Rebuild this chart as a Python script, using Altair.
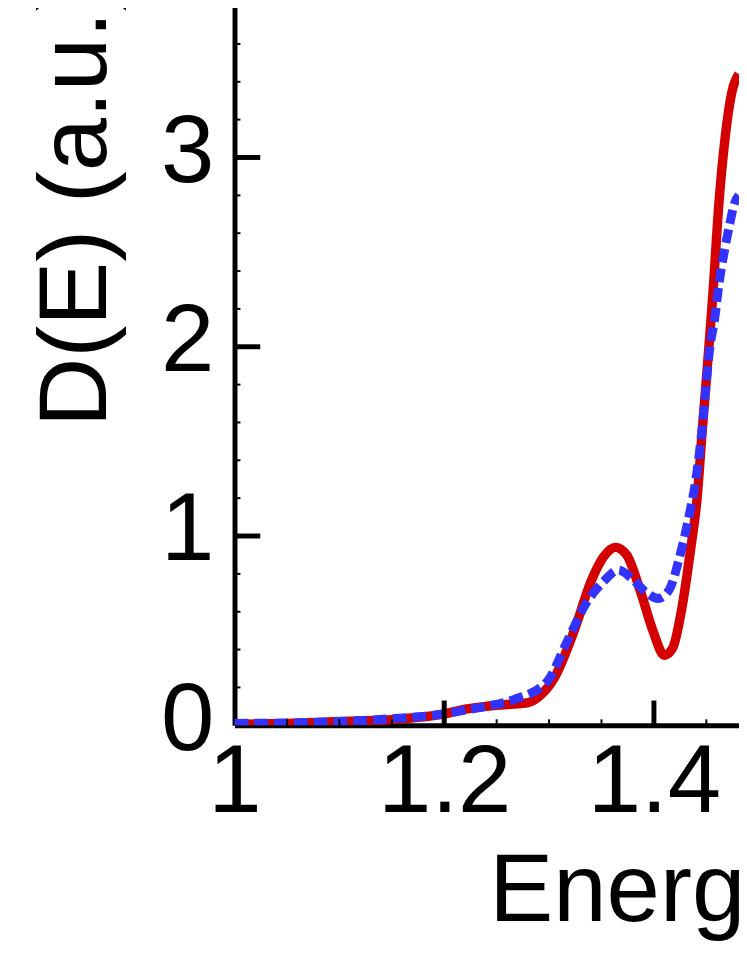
import altair as alt
import pandas as pd

# Red solid curve
red_x = [1.00, 1.05, 1.10, 1.15, 1.20, 1.22, 1.24, 1.26, 1.28, 1.29, 1.305, 1.324, 1.34, 1.352,
         1.363, 1.374, 1.387, 1.399, 1.410, 1.418, 1.427, 1.435, 1.441, 1.446, 1.451, 1.456,
         1.462, 1.468, 1.4745, 1.481]
red_y = [0.005, 0.01, 0.02, 0.03, 0.06, 0.085, 0.10, 0.11, 0.12, 0.15, 0.25, 0.50, 0.76, 0.89,
         0.94, 0.90, 0.71, 0.50, 0.37, 0.41, 0.63, 0.93, 1.19, 1.55, 1.90, 2.26,
         2.76, 3.11, 3.35, 3.44]

# Blue dashed curve
blue_x = [1.00, 1.05, 1.10, 1.15, 1.20, 1.22, 1.24, 1.267, 1.298, 1.317, 1.336, 1.352, 1.366,
          1.380, 1.393, 1.404, 1.415, 1.424, 1.434, 1.440, 1.445, 1.449, 1.453, 1.458, 1.462,
          1.467, 1.472, 1.477, 1.481]
blue_y = [0.01, 0.012, 0.02, 0.035, 0.06, 0.08, 0.10, 0.137, 0.23, 0.44, 0.65, 0.76, 0.82,
          0.77, 0.70, 0.67, 0.72, 0.88, 1.12, 1.30, 1.52, 1.75, 1.98, 2.15, 2.33,
          2.50, 2.64, 2.76, 2.80]

x_labels = [1, 1.2, 1.4]
y_labels = [0, 1, 2, 3]
x_major_ticks = [1.2, 1.4]
x_minor_ticks = [1.05, 1.1, 1.15, 1.25, 1.3, 1.35, 1.45]
y_major_ticks = [1, 2, 3]
y_minor_ticks = [0.2, 0.4, 0.6, 0.8, 1.2, 1.4, 1.6, 1.8, 2.2, 2.4, 2.6, 2.8, 3.2, 3.4, 3.6]

FONT = "Liberation Sans"
FS = 97
W, H = 510, 728
XMAX = 1 + W / 1060.0
YMAX = H / 191.33

red_df = pd.DataFrame({"x": red_x, "y": red_y})
blue_df = pd.DataFrame({"x": blue_x, "y": blue_y})

def xenc():
    return alt.X("x:Q",
                 scale=alt.Scale(domain=[1, XMAX], nice=False, zero=False),
                 axis=alt.Axis(values=x_labels, format="~g", ticks=False, tickSize=0, grid=False,
                               domainColor="black", domainWidth=5,
                               labelFont=FONT, labelFontSize=FS, labelColor="black",
                               labelPadding=87, labelBaseline="alphabetic",
                               labelFlush=False, labelOverlap=False,
                               title="Energy (eV)", titleFont=FONT, titleFontSize=FS,
                               titleFontWeight="normal", titleColor="black",
                               titleAlign="left", titleBaseline="alphabetic",
                               titleX=257, titleY=197))

def yenc():
    return alt.Y("y:Q",
                 scale=alt.Scale(domain=[0, YMAX], nice=False, zero=False),
                 axis=alt.Axis(values=y_labels, format="~g", ticks=False, tickSize=0, grid=False,
                               domainColor="black", domainWidth=5,
                               labelFont=FONT, labelFontSize=FS, labelColor="black",
                               labelPadding=21, labelFlush=False, labelOverlap=False,
                               labelOffset=-5,
                               title="D(E) (a.u.)", titleFont=FONT, titleFontSize=FS,
                               titleFontWeight="normal", titleColor="black",
                               titleAngle=270, titleAlign="left", titleBaseline="alphabetic",
                               titleX=-130, titleY=426))

red = alt.Chart(red_df).mark_line(color="#d40000", strokeWidth=9.5, clip=True,
                                  interpolate="monotone").encode(x=xenc(), y=yenc())
blue = alt.Chart(blue_df).mark_line(color="#3333ff", strokeWidth=9, strokeDash=[14, 6],
                                    clip=True, interpolate="monotone").encode(x=xenc(), y=yenc())

xmaj = alt.Chart(pd.DataFrame({"x": x_major_ticks})).mark_rule(color="black", strokeWidth=5).encode(
    x=xenc(), y=alt.value(H), y2=alt.value(H - 25))
xmin = alt.Chart(pd.DataFrame({"x": x_minor_ticks})).mark_rule(color="black", strokeWidth=2).encode(
    x=xenc(), y=alt.value(H), y2=alt.value(H - 6))
ymaj = alt.Chart(pd.DataFrame({"y": y_major_ticks})).mark_rule(color="black", strokeWidth=5).encode(
    y=yenc(), x=alt.value(0), x2=alt.value(26))
ymin = alt.Chart(pd.DataFrame({"y": y_minor_ticks})).mark_rule(color="black", strokeWidth=2).encode(
    y=yenc(), x=alt.value(0), x2=alt.value(6))

chart = alt.layer(red, blue, xmaj, xmin, ymaj, ymin).properties(
    width=W, height=H,
    padding={"left": 229, "top": -8, "right": 0, "bottom": 215},
    autosize=alt.AutoSizeParams(type="none"),
    background="white",
).configure_view(stroke=None)

chart.save("out.html", embed_options={"renderer": "svg", "actions": False})
